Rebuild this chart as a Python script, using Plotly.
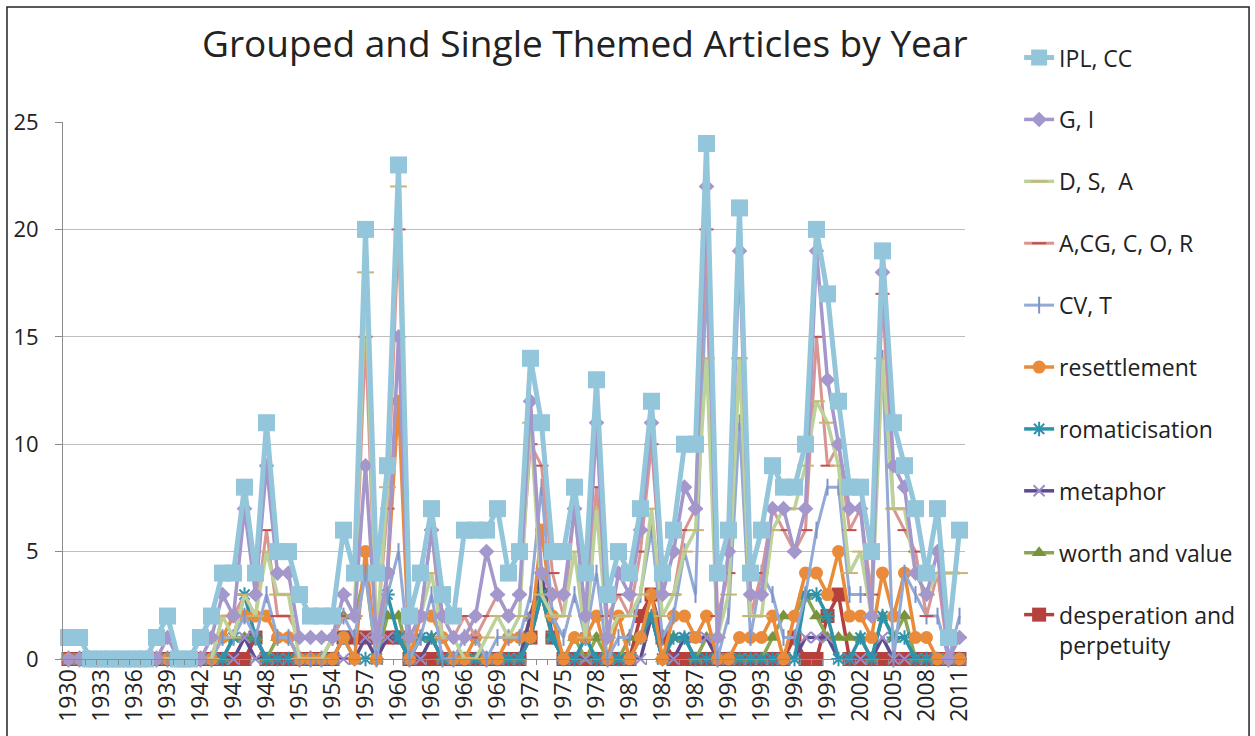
import plotly.graph_objects as go

years = list(range(1930, 2012))

ipl_cc = [1, 1, 0, 0, 0, 0, 0, 0, 1, 2,
          0, 0, 1, 2, 4, 4, 8, 4, 11, 5,
          5, 3, 2, 2, 2, 6, 4, 20, 4, 9,
          23, 2, 4, 7, 3, 2, 6, 6, 6, 7,
          4, 5, 14, 11, 5, 5, 8, 4, 13, 3,
          5, 4, 7, 12, 4, 6, 10, 10, 24, 4,
          6, 21, 4, 6, 9, 8, 8, 10, 20, 17,
          12, 8, 8, 5, 19, 11, 9, 7, 4, 7,
          1, 6]
g_i = [0, 0, 0, 0, 0, 0, 0, 0, 0, 1,
       0, 0, 0, 1, 3, 2, 7, 3, 9, 4,
       4, 1, 1, 1, 1, 3, 2, 9, 1, 4,
       15, 1, 2, 6, 2, 1, 1, 2, 5, 3,
       2, 3, 12, 4, 3, 3, 7, 2, 11, 1,
       4, 3, 6, 11, 3, 5, 8, 7, 22, 1,
       5, 19, 3, 3, 7, 7, 5, 7, 19, 13,
       10, 7, 7, 2, 18, 9, 8, 4, 3, 5,
       0, 1]
d_s_a = [0, 0, 0, 0, 0, 0, 0, 0, 0, 0,
         0, 0, 0, 0, 2, 1, 3, 2, 5, 3,
         3, 0, 0, 0, 1, 3, 2, 18, 1, 8,
         22, 1, 2, 4, 1, 1, 0, 0, 1, 2,
         1, 2, 11, 3, 2, 2, 5, 1, 7, 1,
         2, 2, 3, 7, 2, 3, 5, 6, 14, 1,
         3, 14, 2, 2, 6, 7, 7, 9, 12, 11,
         9, 4, 5, 2, 14, 7, 7, 4, 3, 4,
         4, 4]
a_cg = [0, 0, 0, 0, 0, 0, 0, 0, 0, 0,
        0, 0, 0, 0, 2, 2, 3, 2, 6, 2,
        2, 1, 1, 1, 1, 2, 2, 15, 1, 7,
        20, 1, 2, 6, 1, 1, 2, 1, 2, 3,
        2, 3, 10, 9, 4, 2, 7, 2, 8, 2,
        3, 2, 5, 10, 3, 3, 6, 7, 20, 2,
        4, 14, 2, 4, 7, 6, 5, 6, 15, 9,
        10, 6, 7, 3, 17, 7, 6, 5, 2, 4,
        0, 1]
cv_t = [0, 0, 0, 0, 0, 0, 0, 0, 0, 0,
        0, 0, 0, 0, 1, 1, 2, 1, 3, 1,
        1, 0, 0, 0, 1, 2, 1, 4, 0, 3,
        5, 0, 1, 3, 0, 0, 1, 1, 0, 1,
        1, 1, 3, 8, 2, 1, 3, 1, 4, 0,
        1, 1, 3, 6, 1, 2, 5, 3, 18, 0,
        2, 11, 1, 4, 3, 1, 1, 3, 6, 8,
        8, 3, 3, 3, 14, 0, 4, 3, 2, 2,
        0, 2]
resettlement = [0, 0, 0, 0, 0, 0, 0, 0, 0, 0,
                0, 0, 0, 0, 1, 2, 2, 2, 2, 1,
                1, 0, 0, 0, 0, 1, 0, 5, 0, 4,
                12, 0, 2, 2, 1, 0, 0, 1, 0, 0,
                1, 1, 1, 6, 2, 0, 1, 1, 2, 0,
                2, 0, 1, 3, 0, 2, 2, 1, 2, 0,
                0, 1, 1, 1, 2, 0, 2, 4, 4, 3,
                5, 2, 2, 1, 4, 2, 4, 1, 1, 0,
                0, 0]
romaticisation = [0, 0, 0, 0, 0, 0, 0, 0, 0, 0,
                  0, 0, 0, 0, 0, 1, 3, 1, 0, 0,
                  0, 0, 0, 0, 0, 1, 0, 0, 0, 3,
                  1, 0, 1, 1, 0, 0, 0, 0, 0, 0,
                  0, 0, 1, 3, 1, 0, 0, 1, 0, 0,
                  0, 0, 1, 2, 0, 1, 1, 0, 0, 0,
                  0, 0, 0, 0, 0, 0, 0, 3, 3, 2,
                  0, 0, 1, 0, 2, 1, 1, 0, 0, 0,
                  0, 0]
metaphor = [0, 0, 0, 0, 0, 0, 0, 0, 0, 0,
            0, 0, 0, 0, 0, 0, 1, 0, 0, 0,
            0, 0, 0, 0, 0, 0, 0, 1, 0, 1,
            1, 0, 0, 1, 0, 0, 0, 0, 0, 0,
            0, 0, 2, 4, 1, 0, 0, 0, 0, 0,
            0, 0, 0, 2, 0, 0, 1, 1, 1, 0,
            0, 0, 0, 0, 0, 0, 0, 1, 1, 1,
            0, 0, 0, 0, 1, 0, 0, 0, 0, 0,
            0, 0]
worth_value = [0, 0, 0, 0, 0, 0, 0, 0, 0, 0,
               0, 0, 0, 0, 0, 1, 1, 1, 0, 1,
               1, 0, 0, 0, 1, 2, 2, 4, 0, 2,
               2, 0, 1, 1, 0, 0, 0, 0, 0, 0,
               0, 0, 2, 3, 1, 0, 1, 0, 1, 0,
               0, 1, 1, 2, 0, 1, 1, 0, 1, 0,
               0, 0, 0, 0, 1, 2, 2, 3, 2, 1,
               1, 1, 1, 0, 2, 1, 2, 0, 0, 0,
               0, 0]
desperation = [0, 0, 0, 0, 0, 0, 0, 0, 0, 0,
               0, 0, 0, 0, 0, 0, 0, 1, 0, 0,
               0, 0, 0, 0, 0, 1, 1, 1, 1, 1,
               1, 0, 0, 0, 0, 0, 0, 0, 0, 0,
               0, 0, 1, 3, 1, 0, 0, 0, 0, 0,
               0, 0, 2, 3, 1, 0, 0, 0, 0, 0,
               0, 0, 0, 0, 0, 0, 1, 0, 0, 2,
               3, 0, 0, 0, 0, 0, 0, 0, 0, 0,
               0, 0]

tick_years = list(range(1930, 2012, 3))

FONT = "Open Sans, Lato, sans-serif"

# name, values, line colour, line width, marker symbol, marker colour, marker size
series = [
    ("IPL, CC", ipl_cc, "#93C6DB", 5, "square", "#93C6DB", 17),
    ("G, I", g_i, "#A497CB", 3.5, "diamond", "#A497CB", 12),
    ("D, S,  A", d_s_a, "#BCD29A", 3.5, "line-ew", "#C8B574", 12),
    ("A,CG, C, O, R", a_cg, "#D99592", 3, "line-ew", "#C0504D", 10),
    ("CV, T", cv_t, "#93A9D6", 3, "line-ns", "#7F93C4", 12),
    ("resettlement", resettlement, "#E98B3A", 3.5, "circle", "#E98B3A", 13),
    ("romaticisation", romaticisation, "#2E93AA", 3.5, "asterisk", "#2E93AA", 12),
    ("metaphor", metaphor, "#5F4B8B", 3.5, "x-thin", "#9C8CC8", 11),
    ("worth and value", worth_value, "#8BA653", 3.5, "triangle-up", "#77933C", 13),
    ("desperation and<br>perpetuity", desperation, "#B5403C", 3.5, "square", "#B5403C", 14),
]

fig = go.Figure()
# later series go underneath, so the first series sits on top
for rank, (name, vals, lc, lw, sym, mc, ms) in reversed(list(enumerate(series))):
    fig.add_trace(go.Scatter(
        x=years, y=vals, name=name, mode="lines+markers",
        line=dict(color=lc, width=lw),
        marker=dict(symbol=sym, color=mc, size=ms,
                    line=dict(color=mc, width=2 if sym in ("line-ew", "line-ns", "asterisk", "x-thin") else 0)),
        legendrank=rank + 1, legendgroup=str(rank), cliponaxis=False,
    ))

# chart-area frame
fig.add_shape(type="rect", xref="paper", yref="paper",
              x0=-0.0621, x1=1.3149, y0=-0.16, y1=1.2142,
              line=dict(color="#222222", width=1.5), layer="below")

fig.update_layout(
    width=1255, height=736,
    paper_bgcolor="white", plot_bgcolor="white",
    margin=dict(l=63, r=290, t=122, b=77),
    font=dict(family=FONT, color="#222222"),
    title=dict(text="Grouped and Single Themed Articles by Year",
               x=0.466, xanchor="center", y=0.94, yanchor="middle",
               font=dict(size=37, family=FONT, color="#222222")),
    showlegend=True,
    legend=dict(x=1.06, xanchor="left", y=1.16, yanchor="top",
                font=dict(size=23, family=FONT, color="#222222"),
                tracegroupgap=29, traceorder="grouped", valign="top",
                maxheight=720, bgcolor="rgba(0,0,0,0)"),
)

fig.update_xaxes(
    range=[1929.5, 2011.5], tickmode="array", tickvals=tick_years,
    ticktext=[str(y) for y in tick_years], tickangle=-90,
    tickfont=dict(size=23, family=FONT, color="#222222"),
    showgrid=False, zeroline=False, showline=True, linecolor="#8C8C8C", linewidth=1,
    ticks="", minor=dict(dtick=1, tick0=1929.5, ticks="outside", ticklen=5, tickcolor="#8C8C8C"),
)
fig.update_yaxes(
    range=[0, 25], dtick=5, tickfont=dict(size=22, family=FONT, color="#222222"),
    showgrid=True, gridcolor="#BDBDBD", gridwidth=1, zeroline=False,
    showline=True, linecolor="#8C8C8C", linewidth=1,
    ticks="outside", ticklen=7, tickcolor="#8C8C8C", ticklabelstandoff=12,
)

fig.write_html("out.html")
